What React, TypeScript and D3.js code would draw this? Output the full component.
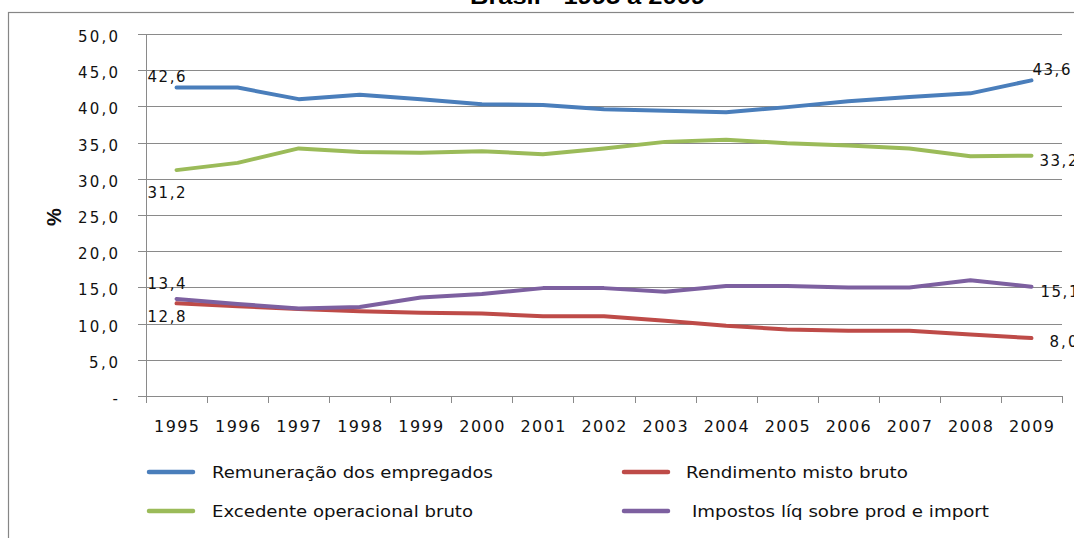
import React from 'react';
import * as d3 from 'd3';

const years = ['1995','1996','1997','1998','1999','2000','2001','2002','2003','2004','2005','2006','2007','2008','2009'];
const remuneracao = [42.6, 42.6, 41.0, 41.6, 41.0, 40.3, 40.2, 39.6, 39.4, 39.2, 39.9, 40.7, 41.3, 41.8, 43.6];
const excedente = [31.2, 32.2, 34.2, 33.7, 33.6, 33.8, 33.4, 34.2, 35.1, 35.4, 34.9, 34.6, 34.2, 33.1, 33.2];
const rendimento = [12.8, 12.4, 12.0, 11.7, 11.5, 11.4, 11.0, 11.0, 10.4, 9.7, 9.2, 9.0, 9.0, 8.5, 8.0];
const impostos = [13.4, 12.7, 12.1, 12.3, 13.6, 14.1, 14.9, 14.9, 14.4, 15.2, 15.2, 15.0, 15.0, 16.0, 15.1];
const yTicks = [0, 5, 10, 15, 20, 25, 30, 35, 40, 45, 50];
const seriesNames = ['Remuneração dos empregados', 'Excedente operacional bruto', 'Rendimento misto bruto', 'Impostos líq sobre prod e import'];
const title = 'Brasil - 1995 a 2009';
const yTitle = '%';

const colors = ['#4A7EBB', '#9BBB59', '#BE4B48', '#7D60A0'];

const fmt = (v: number) => v.toFixed(1).replace('.', ',');

export default function App() {
  const width = 1074, height = 538;
  const x = d3.scaleBand<string>().domain(years).range([146, 1062]);
  const y = d3.scaleLinear().domain([0, 50]).range([396, 34]);
  const cx = (yr: string) => (x(yr) as number) + x.bandwidth() / 2;
  const line = d3.line<number>().x((_, i) => cx(years[i])).y(d => y(d));
  const series = [remuneracao, excedente, rendimento, impostos];

  // data label placement: [series index, point index, dx, dy, textLength]
  const labels: [number, number, number, number, number][] = [
    [0, 0, -29, -6, 38],
    [1, 0, -29, 28, 38],
    [3, 0, -29, -10, 38],
    [2, 0, -29, 19, 38],
    [0, 14, 1, -5, 38],
    [1, 14, 8, 10, 38],
    [3, 14, 9, 10, 38],
    [2, 14, 18, 9, 28],
  ];

  const legend = [
    { s: 0, lx: 147, ty: 472, tx: 212, tl: 281 },
    { s: 1, lx: 147, ty: 511, tx: 212, tl: 261 },
    { s: 2, lx: 622, ty: 472, tx: 686, tl: 222 },
    { s: 3, lx: 622, ty: 511, tx: 692, tl: 297 },
  ];

  const grid = '#8a8a8a';
  const font = 'DejaVu Sans, sans-serif';

  return (
    <svg width={width} height={height} style={{ position: 'absolute', left: 0, top: 0, background: '#fff' }}>
      <rect x={0} y={0} width={width} height={height} fill="#fff" />
      <text x={587.5} y={3.5} textAnchor="middle" fontFamily="Liberation Sans, Arial, sans-serif" fontWeight="bold" fontSize={22} textLength={235} lengthAdjust="spacingAndGlyphs" fill="#000">{title}</text>
      <rect x={8.5} y={12.5} width={1080} height={540} fill="none" stroke="#868686" strokeWidth={1.2} />

      {yTicks.map(t => {
        const s = t === 0 ? '-' : fmt(t);
        return (
          <g key={t}>
            <line x1={138} x2={1062} y1={Math.round(y(t)) + 0.5} y2={Math.round(y(t)) + 0.5} stroke={grid} strokeWidth={1} />
            <text x={118} y={y(t) + 8} textAnchor="end" fontFamily={font} fontSize={15} fill="#111"
              {...(t === 0 ? {} : { textLength: s.length === 4 ? 40 : 29, lengthAdjust: 'spacing' })}>{s}</text>
          </g>
        );
      })}
      <line x1={146.5} x2={146.5} y1={34} y2={403} stroke={grid} strokeWidth={1} />
      {years.map((yr) => (
        <line key={'t' + yr} x1={Math.round(x(yr) as number) + 0.5} x2={Math.round(x(yr) as number) + 0.5} y1={396} y2={403} stroke={grid} />
      ))}
      <line x1={1062.5} x2={1062.5} y1={396} y2={403} stroke={grid} />
      {years.map(yr => (
        <text key={yr} x={cx(yr)} y={432} textAnchor="middle" fontFamily={font} fontSize={16} fill="#111" textLength={45} lengthAdjust="spacing">{yr}</text>
      ))}

      <text transform="translate(61,217) rotate(-90)" textAnchor="middle" fontFamily="Liberation Sans, Arial, sans-serif" fontWeight="bold" fontSize={20} fill="#111">{yTitle}</text>

      {series.map((s, i) => (
        <path key={i} d={line(s) as string} fill="none" stroke={colors[i]} strokeWidth={4} strokeLinejoin="round" strokeLinecap="round" />
      ))}

      {labels.map(([si, pi, dx, dy, tl], k) => (
        <text key={k} x={cx(years[pi]) + dx} y={y(series[si][pi]) + dy} fontFamily={font} fontSize={15} fill="#111" textLength={tl} lengthAdjust="spacing">{fmt(series[si][pi])}</text>
      ))}

      {legend.map(l => (
        <g key={l.s}>
          <line x1={l.lx + 2} x2={l.lx + 46} y1={l.ty} y2={l.ty} stroke={colors[l.s]} strokeWidth={4.5} strokeLinecap="round" />
          <text x={l.tx} y={l.ty + 6} fontFamily={font} fontSize={15} fill="#111" textLength={l.tl} lengthAdjust="spacingAndGlyphs">{seriesNames[l.s]}</text>
        </g>
      ))}
    </svg>
  );
}
